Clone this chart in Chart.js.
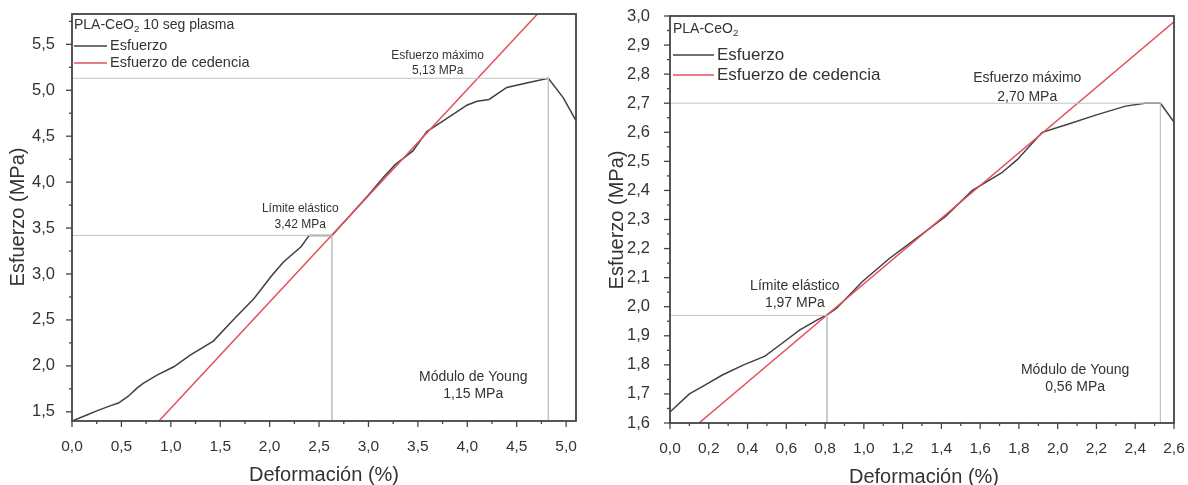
<!DOCTYPE html>
<html lang="es">
<head>
<meta charset="utf-8">
<title>Esfuerzo vs deformación</title>
<script src="https://cdn.jsdelivr.net/npm/chart.js@4.4.0/dist/chart.umd.min.js"></script>
<style>
  body { margin: 0; background: #fff; }
  .wrap { position: relative; width: 1188px; height: 485px; }
  canvas { position: absolute; top: 0; }
  #chartA { left: 0; }
  #chartB { left: 594px; }
</style>
</head>
<body>
<div class="wrap">
  <canvas id="chartA" width="594" height="485"></canvas>
  <canvas id="chartB" width="594" height="485"></canvas>
</div>
<script>
// PLA-CeO2 10 seg plasma
const strainA = [0, 0.15, 0.25, 0.385, 0.47, 0.57, 0.66, 0.72, 0.86, 1.03, 1.20, 1.43, 1.64, 1.84, 2.02, 2.14, 2.32, 2.40, 2.63,
  2.80, 3.00, 3.15, 3.27, 3.45, 3.59, 3.76, 4.00, 4.10, 4.22, 4.40, 4.60, 4.82, 4.97, 5.10];
const stressA = [1.40, 1.465, 1.51, 1.565, 1.595, 1.67, 1.76, 1.81, 1.90, 1.99, 2.12, 2.27, 2.51, 2.73, 2.98, 3.13, 3.30, 3.42, 3.42,
  3.62, 3.86, 4.05, 4.19, 4.34, 4.55, 4.67, 4.84, 4.88, 4.90, 5.03, 5.08, 5.13, 4.92, 4.67];
const yieldStrainA = [0.88, 4.71];
const yieldStressA = [1.40, 5.83];
const elasticA = [2.63, 3.42];   // deformación, esfuerzo
const maxA = [4.82, 5.13];
const youngA = 1.15;
const xTicksA = [0, 0.5, 1.0, 1.5, 2.0, 2.5, 3.0, 3.5, 4.0, 4.5, 5.0];
const yTicksA = [1.5, 2.0, 2.5, 3.0, 3.5, 4.0, 4.5, 5.0, 5.5];

// PLA-CeO2
const strainB = [0, 0.10, 0.18, 0.27, 0.38, 0.49, 0.57, 0.67, 0.76, 0.81, 0.86, 0.99, 1.13, 1.30, 1.42, 1.56, 1.71, 1.79,
  1.92, 2.04, 2.20, 2.35, 2.45, 2.53, 2.60];
const stressB = [1.638, 1.70, 1.73, 1.765, 1.80, 1.83, 1.87, 1.92, 1.955, 1.972, 1.995, 2.085, 2.165, 2.25, 2.31, 2.40, 2.46, 2.505,
  2.60, 2.625, 2.66, 2.69, 2.70, 2.70, 2.635];
const yieldStrainB = [0.15, 2.60];
const yieldStressB = [1.60, 2.98];
const elasticB = [0.81, 1.97];
const maxB = [2.53, 2.70];
const youngB = 0.56;
const xTicksB = [0, 0.2, 0.4, 0.6, 0.8, 1.0, 1.2, 1.4, 1.6, 1.8, 2.0, 2.2, 2.4, 2.6];
const yTicksB = [1.6, 1.7, 1.8, 1.9, 2.0, 2.1, 2.2, 2.3, 2.4, 2.5, 2.6, 2.7, 2.8, 2.9, 3.0];

const FONT = '"Liberation Sans", Arial, sans-serif';
const INK = '#333';
const fmt = (v, d) => v.toFixed(d).replace('.', ',');
const pts = (xs, ys) => xs.map((v, i) => ({ x: v, y: ys[i] }));

// frame, tick marks, legend, notes and axis titles
const decor = {
  id: 'decor',
  afterDraw(chart, args, o) {
    const { ctx, chartArea: a, scales: { x, y } } = chart;
    ctx.save();
    ctx.strokeStyle = '#444';
    ctx.lineWidth = 1.3;
    const tick = (x0, y0, x1, y1) => { ctx.beginPath(); ctx.moveTo(x0, y0); ctx.lineTo(x1, y1); ctx.stroke(); };
    const minors = (list, min, max) => {
      const h = (list[1] - list[0]) / 2, out = [];
      for (let v = list[0] - h; v <= max + 1e-9; v += 2 * h) if (v >= min) out.push(v);
      return out;
    };
    o.xTicks.forEach(v => { const p = x.getPixelForValue(v); tick(p, a.bottom, p, a.bottom + 6); });
    minors(o.xTicks, x.min, x.max).forEach(v => { const p = x.getPixelForValue(v); tick(p, a.bottom, p, a.bottom + 3); });
    o.yTicks.forEach(v => { const p = y.getPixelForValue(v); tick(a.left, p, a.left - 6, p); });
    minors(o.yTicks, y.min, y.max).forEach(v => { const p = y.getPixelForValue(v); tick(a.left, p, a.left - 3, p); });

    ctx.lineWidth = 1.8;
    ctx.strokeRect(a.left, a.top, a.right - a.left, a.bottom - a.top);

    ctx.fillStyle = INK;
    ctx.textBaseline = 'middle';

    // legend
    const L = o.legend;
    ctx.textAlign = 'left';
    ctx.font = `${L.titleSize}px ${FONT}`;
    ctx.fillText('PLA-CeO', L.x, L.titleY);
    let w = ctx.measureText('PLA-CeO').width;
    ctx.font = `${L.titleSize * 0.7}px ${FONT}`;
    ctx.fillText('2', L.x + w, L.titleY + L.titleSize * 0.3);
    w += ctx.measureText('2').width;
    ctx.font = `${L.titleSize}px ${FONT}`;
    ctx.fillText(o.sample, L.x + w, L.titleY);
    ctx.font = `${L.size}px ${FONT}`;
    const items = [['Esfuerzo', '#404040', L.row1], ['Esfuerzo de cedencia', '#e2505a', L.row2]];
    items.forEach(([label, color, ry]) => {
      ctx.strokeStyle = color;
      ctx.lineWidth = 1.5;
      tick(L.x, ry, L.x + L.line, ry);
      ctx.fillText(label, L.x + L.line + 3, ry);
    });

    // notes
    ctx.textAlign = 'center';
    o.notes.forEach(n => {
      ctx.font = `${n.size}px ${FONT}`;
      ctx.fillText(n.text, x.getPixelForValue(n.x), y.getPixelForValue(n.y));
    });

    // axis titles
    ctx.font = `20px ${FONT}`;
    ctx.fillText('Deformación (%)', o.xTitle[0], o.xTitle[1]);
    ctx.translate(o.yTitle[0], o.yTitle[1]);
    ctx.rotate(-Math.PI / 2);
    ctx.fillText('Esfuerzo (MPa)', 0, 0);
    ctx.restore();
  }
};

function makeChart(id, d) {
  const area = d.area;
  return new Chart(document.getElementById(id), {
    type: 'scatter',
    data: {
      datasets: [
        { data: pts([0, d.elastic[0], d.elastic[0]], [d.elastic[1], d.elastic[1], d.yMin]), borderColor: '#c4c4c4', borderWidth: 1 },
        { data: pts([0, d.max[0], d.max[0]], [d.max[1], d.max[1], d.yMin]), borderColor: '#c4c4c4', borderWidth: 1 },
        { data: pts(d.yieldX, d.yieldY), borderColor: '#e2505a', borderWidth: 1.5 },
        { data: pts(d.strain, d.stress), borderColor: '#404040', borderWidth: 1.5 }
      ].map(ds => Object.assign(ds, { showLine: true, pointRadius: 0, tension: 0, fill: false }))
    },
    options: {
      responsive: false,
      animation: false,
      events: [],
      layout: { autoPadding: false, padding: { left: 0, top: area.top, right: 594 - area.right, bottom: 0 } },
      plugins: {
        legend: { display: false },
        tooltip: { enabled: false },
        decor: d.decor
      },
      scales: {
        x: {
          type: 'linear', min: 0, max: d.xMax,
          afterBuildTicks: s => { s.ticks = d.xTicks.map(v => ({ value: v })); },
          afterFit: s => { s.height = 485 - area.bottom; s.paddingLeft = 0; s.paddingRight = 0; },
          grid: { display: false }, border: { display: false },
          ticks: { font: { family: FONT, size: 15.5 }, color: INK, padding: d.xPad, maxRotation: 0, autoSkip: false, callback: v => fmt(v, 1) }
        },
        y: {
          type: 'linear', min: d.yMin, max: d.yMax,
          afterBuildTicks: s => { s.ticks = d.yTicks.map(v => ({ value: v })); },
          afterFit: s => { s.width = area.left; s.paddingTop = 0; s.paddingBottom = 0; },
          grid: { display: false }, border: { display: false },
          ticks: { font: { family: FONT, size: 16.5 }, color: INK, padding: d.yPad, autoSkip: false, callback: v => fmt(v, 1) }
        }
      }
    },
    plugins: [decor]
  });
}

makeChart('chartA', {
  area: { left: 72, top: 14, right: 576, bottom: 421 },
  xMax: 5.1, yMin: 1.40, yMax: 5.83, xPad: 8, yPad: 9,
  xTicks: xTicksA, yTicks: yTicksA,
  strain: strainA, stress: stressA, yieldX: yieldStrainA, yieldY: yieldStressA,
  elastic: elasticA, max: maxA,
  decor: {
    xTicks: xTicksA, yTicks: yTicksA, sample: ' 10 seg plasma',
    legend: { x: 74, titleY: 25, titleSize: 14, size: 14.5, row1: 46, row2: 63, line: 33 },
    notes: [
      { text: 'Límite elástico', x: 2.31, y: 3.715, size: 12 },
      { text: fmt(elasticA[1], 2) + ' MPa', x: 2.31, y: 3.54, size: 12 },
      { text: 'Esfuerzo máximo', x: 3.70, y: 5.38, size: 12 },
      { text: fmt(maxA[1], 2) + ' MPa', x: 3.70, y: 5.215, size: 12 },
      { text: 'Módulo de Young', x: 4.06, y: 1.88, size: 14 },
      { text: fmt(youngA, 2) + ' MPa', x: 4.06, y: 1.69, size: 14 }
    ],
    xTitle: [324, 475], yTitle: [18, 217]
  }
});

makeChart('chartB', {
  area: { left: 76, top: 16, right: 580, bottom: 423 },
  xMax: 2.6, yMin: 1.6, yMax: 3.0, xPad: 8, yPad: 12,
  xTicks: xTicksB, yTicks: yTicksB,
  strain: strainB, stress: stressB, yieldX: yieldStrainB, yieldY: yieldStressB,
  elastic: elasticB, max: maxB,
  decor: {
    xTicks: xTicksB, yTicks: yTicksB, sample: '',
    legend: { x: 79, titleY: 29, titleSize: 14, size: 17, row1: 55, row2: 75, line: 41 },
    notes: [
      { text: 'Límite elástico', x: 0.644, y: 2.071, size: 14 },
      { text: fmt(elasticB[1], 2) + ' MPa', x: 0.644, y: 2.013, size: 14 },
      { text: 'Esfuerzo máximo', x: 1.843, y: 2.787, size: 14 },
      { text: fmt(maxB[1], 2) + ' MPa', x: 1.843, y: 2.721, size: 14 },
      { text: 'Módulo de Young', x: 2.09, y: 1.782, size: 14 },
      { text: fmt(youngB, 2) + ' MPa', x: 2.09, y: 1.724, size: 14 }
    ],
    xTitle: [330, 477], yTitle: [23, 220]
  }
});
</script>
</body>
</html>
